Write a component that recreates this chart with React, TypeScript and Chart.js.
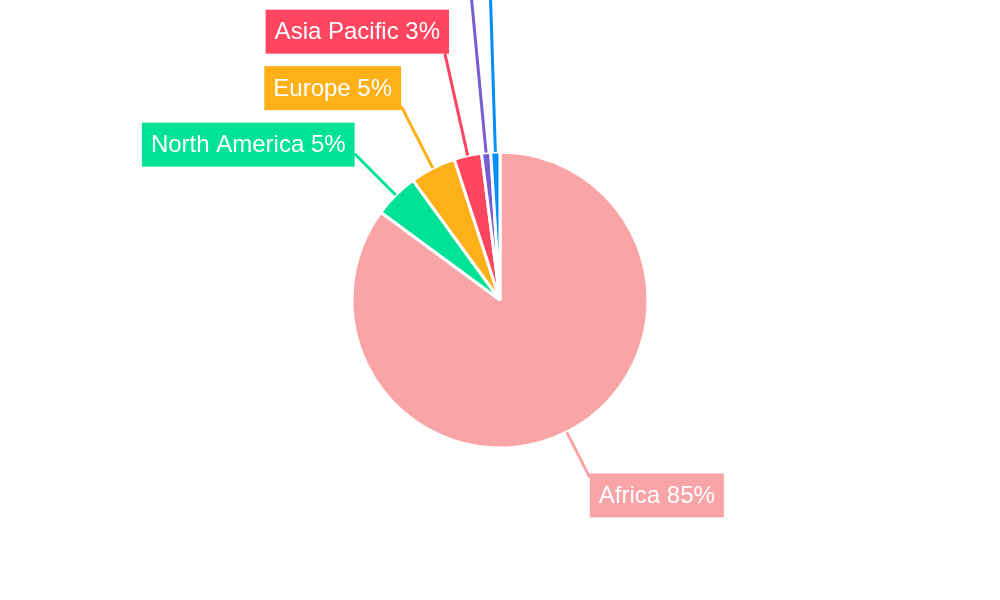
import React, { useEffect, useRef } from "react";
import { Chart, registerables } from "chart.js";

Chart.register(...registerables);

const regions = ["Africa", "North America", "Europe", "Asia Pacific", "Middle East", "Latin America"];
const shares = [85.1, 4.9, 5.0, 3.0, 1.0, 1.0];
const colors = ["#F9A5A8", "#00E396", "#FEB019", "#FF4560", "#775DD0", "#008FFB"];

const calloutPlugin = {
  id: "callouts",
  afterDatasetsDraw(chart: any) {
    const ctx = chart.ctx as CanvasRenderingContext2D;
    const meta = chart.getDatasetMeta(0);
    const total = shares.reduce((a, b) => a + b, 0);
    const labelGap = 71;
    const spacing = 56.5;
    const boxH = 44;
    const padX = 9;
    ctx.save();
    ctx.font = '24px "Liberation Sans", Arial, sans-serif';
    const items = meta.data.map((arc: any, i: number) => {
      const { x: cx, y: cy, startAngle, endAngle, outerRadius } = arc.getProps(
        ["x", "y", "startAngle", "endAngle", "outerRadius"],
        true
      );
      const mid = (startAngle + endAngle) / 2;
      const cos = Math.cos(mid);
      const sin = Math.sin(mid);
      const rl = outerRadius + labelGap;
      const text = `${regions[i]} ${Math.round((shares[i] / total) * 100)}%`;
      return { i, cx, cy, cos, sin, r: outerRadius, y0: cy + rl * sin, rl, text, right: cos >= 0, y: 0, x: 0 };
    });
    // layout per side: push labels upward from the bottom
    [true, false].forEach((side) => {
      const list = items.filter((it: any) => it.right === side).sort((a: any, b: any) => b.y0 - a.y0);
      let prev = Infinity;
      list.forEach((it: any) => {
        it.y = Math.min(it.y0, prev - spacing);
        prev = it.y;
      });
    });
    items.forEach((it: any) => {
      if (Math.abs(it.sin) > 1e-3) {
        const t = (it.y - it.cy) / it.sin;
        it.x = it.cx + t * it.cos;
      } else {
        it.x = it.cx + it.rl * it.cos;
      }
      const w = ctx.measureText(it.text).width;
      const bx = it.right ? it.x - padX : it.x - w - padX;
      const by = it.y - boxH / 2;
      const bw = w + padX * 2;
      // ray-box intersection from center
      let tmin = -Infinity;
      let tmax = Infinity;
      const slab = (o: number, d: number, lo: number, hi: number) => {
        if (Math.abs(d) < 1e-9) {
          if (o < lo || o > hi) tmin = Infinity;
          return;
        }
        let t1 = (lo - o) / d;
        let t2 = (hi - o) / d;
        if (t1 > t2) [t1, t2] = [t2, t1];
        tmin = Math.max(tmin, t1);
        tmax = Math.min(tmax, t2);
      };
      slab(it.cx, it.cos, bx, bx + bw);
      slab(it.cy, it.sin, by, by + boxH);
      const tEnd = tmin <= tmax && isFinite(tmin) ? tmin : it.rl;
      ctx.strokeStyle = colors[it.i];
      ctx.lineWidth = 3;
      ctx.beginPath();
      ctx.moveTo(it.cx + it.r * it.cos, it.cy + it.r * it.sin);
      ctx.lineTo(it.cx + tEnd * it.cos, it.cy + tEnd * it.sin);
      ctx.stroke();
      ctx.fillStyle = colors[it.i];
      ctx.fillRect(bx, by, bw, boxH);
      ctx.fillStyle = "#ffffff";
      ctx.textBaseline = "middle";
      ctx.textAlign = it.right ? "left" : "right";
      ctx.fillText(it.text, it.x, it.y + 1);
    });
    ctx.restore();
  },
};

export default function App() {
  const ref = useRef<HTMLCanvasElement | null>(null);
  useEffect(() => {
    document.body.style.margin = "0";
    if (!ref.current) return;
    const chart = new Chart(ref.current, {
      type: "pie",
      data: {
        labels: regions,
        datasets: [
          {
            data: shares,
            backgroundColor: colors,
            borderColor: "#ffffff",
            borderWidth: 3,
          },
        ],
      },
      options: {
        responsive: false,
        animation: false,
        devicePixelRatio: 1,
        radius: 148,
        layout: { padding: 0 },
        plugins: {
          legend: { display: false },
          tooltip: { enabled: false },
        },
      },
      plugins: [calloutPlugin],
    });
    return () => chart.destroy();
  }, []);
  return (
    <div style={{ width: 1000, height: 600 }}>
      <canvas ref={ref} width={1000} height={600} />
    </div>
  );
}
